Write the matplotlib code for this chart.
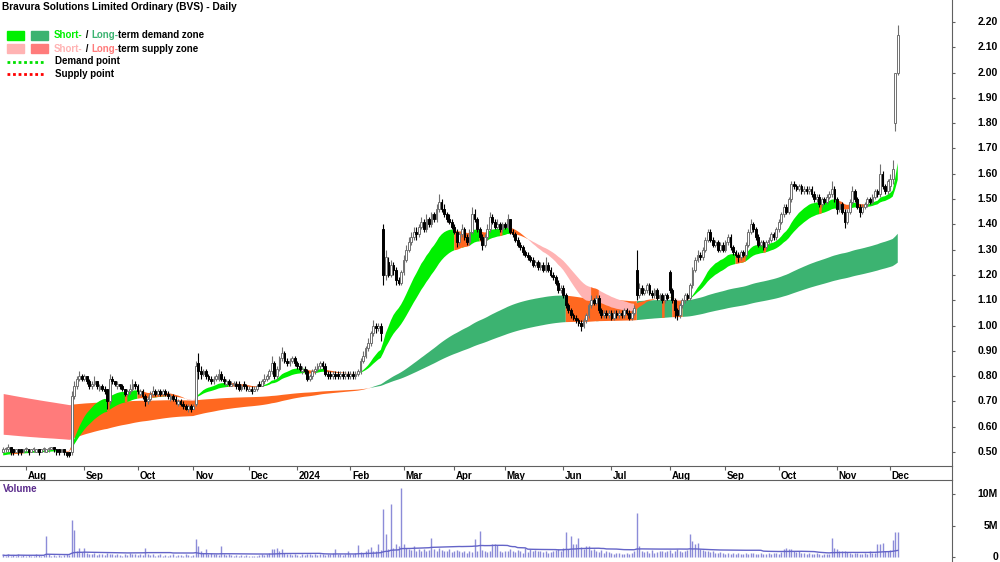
import numpy as np
import pandas as pd
import matplotlib
matplotlib.use("Agg")
import matplotlib.pyplot as plt
from matplotlib.transforms import blended_transform_factory
from matplotlib.patches import Rectangle
from matplotlib.lines import Line2D

plt.rcParams['font.family'] = ['Liberation Sans', 'DejaVu Sans']

# ---------------- data ----------------
start_date = "2023-07-19"
end_date = "2024-12-05"
holidays = ["2023-12-25", "2023-12-26", "2024-01-01", "2024-01-26",
            "2024-03-29", "2024-04-01", "2024-04-25", "2024-06-10"]

opens = [
 0.50,0.51,0.51,0.52,0.51,0.50,0.51,0.51,0.50,0.51, 0.51,0.50,0.51,0.50,0.51,0.50,0.51,0.50,0.51,0.51,
 0.52,0.51,0.51,0.50,0.51,0.50,0.50,0.50,0.72,0.76, 0.79,0.80,0.79,0.80,0.78,0.76,0.77,0.78,0.75,0.76,
 0.75,0.75,0.70,0.79,0.78,0.76,0.77,0.76,0.75,0.73, 0.74,0.75,0.77,0.76,0.73,0.74,0.72,0.70,0.71,0.73,
 0.74,0.73,0.74,0.73,0.74,0.73,0.71,0.72,0.71,0.69, 0.70,0.69,0.68,0.67,0.68,0.67,0.69,0.85,0.82,0.81,
 0.82,0.80,0.79,0.78,0.79,0.79,0.81,0.79,0.77,0.78, 0.76,0.77,0.77,0.77,0.75,0.77,0.76,0.74,0.75,0.74,
 0.75,0.77,0.76,0.78,0.79,0.80,0.82,0.85,0.80,0.83, 0.87,0.89,0.86,0.85,0.86,0.87,0.85,0.84,0.82,0.83,
 0.82,0.79,0.80,0.82,0.83,0.84,0.85,0.84,0.81,0.81, 0.80,0.81,0.81,0.80,0.81,0.80,0.81,0.80,0.81,0.80,
 0.81,0.82,0.86,0.88,0.91,0.93,0.97,1.00,0.99,1.00, 1.38,1.20,1.25,1.20,1.24,1.22,1.18,1.17,1.21,1.26,
 1.30,1.33,1.35,1.37,1.36,1.39,1.41,1.38,1.42,1.40, 1.44,1.42,1.46,1.49,1.46,1.44,1.42,1.41,1.39,1.37,
 1.33,1.36,1.38,1.35,1.33,1.37,1.44,1.42,1.38,1.35, 1.32,1.35,1.38,1.43,1.41,1.39,1.40,1.38,1.40,1.39,
 1.42,1.37,1.36,1.34,1.32,1.31,1.29,1.28,1.27,1.26, 1.24,1.25,1.23,1.24,1.22,1.24,1.22,1.20,1.19,1.17,
 1.14,1.15,1.12,1.08,1.06,1.04,1.03,1.02,1.01,1.00, 1.02,1.04,1.08,1.10,1.09,1.11,1.06,1.04,1.05,1.04,
 1.05,1.03,1.05,1.04,1.05,1.04,1.06,1.05,1.03,1.05, 1.22,1.12,1.15,1.13,1.14,1.16,1.13,1.12,1.14,1.11,
 1.12,1.10,1.12,1.21,1.14,1.10,1.06,1.04,1.08,1.10, 1.12,1.11,1.16,1.22,1.26,1.28,1.27,1.30,1.34,1.37,
 1.34,1.32,1.33,1.30,1.32,1.30,1.33,1.35,1.31,1.29, 1.28,1.27,1.29,1.28,1.32,1.37,1.40,1.38,1.35,1.32,
 1.33,1.31,1.33,1.34,1.36,1.35,1.38,1.41,1.44,1.47, 1.45,1.50,1.56,1.55,1.54,1.55,1.53,1.54,1.53,1.54,
 1.52,1.50,1.51,1.48,1.50,1.49,1.51,1.52,1.54,1.50, 1.46,1.48,1.45,1.41,1.45,1.49,1.53,1.50,1.47,1.45,
 1.47,1.48,1.50,1.49,1.51,1.53,1.52,1.60,1.55,1.53, 1.55,1.58,1.80,2.00]

highs = [
 0.52,0.52,0.53,0.52,0.51,0.51,0.51,0.51,0.51,0.52, 0.51,0.51,0.52,0.51,0.51,0.51,0.52,0.51,0.52,0.52,
 0.52,0.51,0.51,0.51,0.51,0.50,0.50,0.74,0.78,0.80, 0.82,0.81,0.81,0.80,0.79,0.78,0.80,0.78,0.77,0.77,
 0.76,0.75,0.81,0.80,0.78,0.78,0.77,0.77,0.75,0.75, 0.77,0.79,0.78,0.77,0.75,0.75,0.73,0.72,0.74,0.76,
 0.75,0.75,0.75,0.75,0.75,0.74,0.73,0.73,0.72,0.71, 0.71,0.70,0.69,0.69,0.69,0.69,0.86,0.89,0.84,0.83,
 0.83,0.81,0.80,0.80,0.81,0.83,0.82,0.80,0.79,0.79, 0.78,0.78,0.78,0.78,0.77,0.78,0.77,0.76,0.76,0.76,
 0.77,0.78,0.79,0.81,0.81,0.83,0.88,0.86,0.84,0.88, 0.915,0.90,0.87,0.87,0.88,0.88,0.86,0.85,0.84,0.84,
 0.83,0.81,0.83,0.84,0.85,0.86,0.86,0.85,0.82,0.82, 0.82,0.82,0.82,0.82,0.82,0.82,0.82,0.82,0.82,0.82,
 0.83,0.87,0.90,0.92,0.95,0.98,1.02,1.01,1.01,1.01, 1.40,1.30,1.27,1.26,1.25,1.23,1.19,1.22,1.28,1.32,
 1.35,1.37,1.39,1.39,1.40,1.43,1.42,1.44,1.43,1.45, 1.45,1.48,1.52,1.50,1.48,1.45,1.44,1.42,1.40,1.38,
 1.37,1.40,1.39,1.36,1.38,1.47,1.46,1.43,1.39,1.36, 1.36,1.40,1.45,1.44,1.42,1.42,1.41,1.41,1.41,1.44,
 1.42,1.38,1.37,1.35,1.33,1.32,1.30,1.29,1.28,1.27, 1.26,1.26,1.25,1.25,1.27,1.25,1.23,1.21,1.20,1.18,
 1.16,1.16,1.13,1.09,1.07,1.05,1.04,1.03,1.02,1.03, 1.05,1.09,1.12,1.11,1.12,1.12,1.07,1.06,1.06,1.06,
 1.06,1.06,1.06,1.06,1.06,1.07,1.07,1.06,1.06,1.08, 1.30,1.17,1.16,1.15,1.17,1.17,1.14,1.15,1.15,1.13,
 1.13,1.13,1.13,1.22,1.15,1.11,1.07,1.09,1.11,1.13, 1.13,1.17,1.23,1.27,1.30,1.29,1.31,1.35,1.38,1.38,
 1.35,1.34,1.34,1.33,1.33,1.34,1.36,1.36,1.32,1.30, 1.29,1.30,1.30,1.33,1.38,1.42,1.41,1.39,1.36,1.34,
 1.34,1.34,1.35,1.37,1.37,1.39,1.42,1.45,1.48,1.48, 1.51,1.57,1.57,1.56,1.56,1.56,1.55,1.55,1.55,1.55,
 1.53,1.52,1.52,1.51,1.51,1.52,1.53,1.57,1.55,1.51, 1.49,1.49,1.46,1.46,1.50,1.55,1.54,1.51,1.48,1.48,
 1.49,1.51,1.51,1.52,1.54,1.54,1.64,1.61,1.56,1.58, 1.60,1.655,2.00,2.19]

lows = [
 0.50,0.50,0.50,0.49,0.49,0.50,0.49,0.49,0.50,0.50, 0.49,0.50,0.50,0.50,0.49,0.50,0.50,0.50,0.50,0.51,
 0.50,0.49,0.49,0.50,0.49,0.48,0.48,0.49,0.71,0.75, 0.78,0.78,0.78,0.77,0.75,0.75,0.76,0.75,0.74,0.74,
 0.73,0.67,0.69,0.77,0.76,0.75,0.75,0.74,0.72,0.72, 0.73,0.74,0.75,0.73,0.72,0.71,0.68,0.69,0.70,0.72,
 0.72,0.72,0.72,0.72,0.72,0.71,0.70,0.70,0.69,0.68, 0.68,0.67,0.665,0.66,0.66,0.67,0.68,0.79,0.79,0.80,
 0.79,0.78,0.77,0.77,0.78,0.78,0.78,0.77,0.76,0.76, 0.76,0.76,0.75,0.74,0.74,0.75,0.74,0.74,0.73,0.74,
 0.74,0.76,0.76,0.77,0.78,0.79,0.81,0.79,0.79,0.82, 0.86,0.85,0.84,0.84,0.85,0.84,0.83,0.82,0.81,0.81,
 0.78,0.78,0.79,0.81,0.82,0.83,0.83,0.80,0.79,0.79, 0.79,0.79,0.79,0.79,0.79,0.79,0.79,0.79,0.79,0.79,
 0.80,0.81,0.85,0.87,0.90,0.92,0.96,0.97,0.98,0.94, 1.16,1.18,1.19,1.19,1.20,1.16,1.16,1.16,1.20,1.25,
 1.29,1.32,1.34,1.34,1.35,1.38,1.37,1.37,1.39,1.39, 1.41,1.41,1.45,1.45,1.43,1.41,1.40,1.38,1.36,1.31,
 1.32,1.35,1.34,1.32,1.32,1.36,1.41,1.37,1.34,1.30, 1.31,1.34,1.37,1.40,1.38,1.38,1.37,1.37,1.38,1.38,
 1.36,1.35,1.33,1.31,1.30,1.28,1.27,1.26,1.25,1.23, 1.23,1.22,1.22,1.21,1.21,1.21,1.19,1.18,1.16,1.13,
 1.13,1.11,1.07,1.05,1.03,1.02,1.01,1.00,0.98,0.99, 1.01,1.03,1.07,1.08,1.08,1.05,1.03,1.03,1.03,1.03,
 1.02,1.02,1.03,1.03,1.03,1.03,1.04,1.02,1.02,1.04, 1.10,1.11,1.12,1.12,1.13,1.12,1.11,1.11,1.10,1.10,
 1.09,1.09,1.10,1.13,1.09,1.03,1.02,1.03,1.07,1.09, 1.10,1.10,1.15,1.21,1.25,1.26,1.26,1.29,1.33,1.33,
 1.31,1.31,1.29,1.29,1.29,1.29,1.32,1.30,1.28,1.27, 1.25,1.26,1.27,1.27,1.31,1.36,1.37,1.34,1.31,1.31,
 1.30,1.30,1.32,1.33,1.34,1.34,1.37,1.40,1.43,1.44, 1.44,1.49,1.54,1.53,1.53,1.52,1.52,1.52,1.52,1.51,
 1.49,1.49,1.47,1.47,1.48,1.48,1.50,1.51,1.49,1.44, 1.45,1.44,1.385,1.40,1.44,1.48,1.49,1.46,1.43,1.44,
 1.46,1.47,1.48,1.48,1.50,1.51,1.51,1.54,1.52,1.52, 1.53,1.56,1.77,1.99]

closes = [
 0.51,0.51,0.52,0.50,0.50,0.51,0.50,0.50,0.51,0.51, 0.50,0.51,0.51,0.51,0.50,0.51,0.51,0.51,0.51,0.52,
 0.51,0.50,0.50,0.51,0.50,0.49,0.49,0.72,0.76,0.79, 0.80,0.79,0.80,0.78,0.76,0.77,0.78,0.76,0.76,0.75,
 0.74,0.70,0.79,0.78,0.77,0.77,0.76,0.75,0.73,0.74, 0.75,0.77,0.76,0.74,0.74,0.72,0.70,0.71,0.73,0.74,
 0.73,0.74,0.73,0.74,0.73,0.72,0.72,0.71,0.70,0.70, 0.69,0.68,0.67,0.68,0.67,0.68,0.84,0.82,0.81,0.82,
 0.80,0.79,0.78,0.79,0.80,0.81,0.79,0.78,0.78,0.77, 0.77,0.77,0.76,0.75,0.76,0.76,0.75,0.75,0.74,0.75,
 0.76,0.76,0.78,0.79,0.80,0.82,0.85,0.80,0.83,0.87, 0.89,0.86,0.85,0.86,0.87,0.85,0.84,0.83,0.83,0.82,
 0.79,0.80,0.82,0.83,0.84,0.85,0.84,0.81,0.80,0.80, 0.81,0.80,0.80,0.81,0.80,0.81,0.80,0.81,0.80,0.81,
 0.82,0.86,0.88,0.91,0.93,0.97,1.00,0.99,1.00,0.97, 1.20,1.27,1.20,1.24,1.22,1.18,1.17,1.21,1.26,1.30,
 1.33,1.35,1.37,1.36,1.39,1.41,1.38,1.42,1.40,1.44, 1.42,1.46,1.49,1.46,1.44,1.42,1.41,1.39,1.37,1.33,
 1.36,1.38,1.35,1.33,1.37,1.44,1.42,1.38,1.35,1.32, 1.35,1.38,1.43,1.41,1.39,1.40,1.38,1.40,1.39,1.42,
 1.37,1.36,1.34,1.32,1.31,1.29,1.28,1.27,1.26,1.24, 1.25,1.23,1.24,1.22,1.24,1.22,1.20,1.19,1.17,1.14,
 1.15,1.12,1.08,1.06,1.04,1.03,1.02,1.01,1.00,1.02, 1.04,1.08,1.10,1.09,1.11,1.06,1.04,1.05,1.04,1.05,
 1.03,1.05,1.04,1.05,1.04,1.06,1.05,1.03,1.05,1.07, 1.12,1.15,1.13,1.14,1.16,1.13,1.12,1.14,1.11,1.12,
 1.10,1.12,1.11,1.14,1.10,1.06,1.04,1.08,1.10,1.12, 1.11,1.16,1.22,1.26,1.28,1.27,1.30,1.34,1.37,1.34,
 1.32,1.33,1.30,1.32,1.30,1.33,1.35,1.31,1.29,1.28, 1.27,1.29,1.28,1.32,1.37,1.40,1.38,1.35,1.32,1.33,
 1.31,1.33,1.34,1.36,1.35,1.38,1.41,1.44,1.47,1.45, 1.50,1.56,1.55,1.54,1.55,1.53,1.54,1.53,1.54,1.52,
 1.50,1.51,1.48,1.50,1.49,1.51,1.52,1.54,1.50,1.46, 1.48,1.45,1.41,1.45,1.49,1.53,1.50,1.47,1.45,1.47,
 1.48,1.50,1.49,1.51,1.53,1.52,1.60,1.55,1.53,1.57, 1.58,1.62,2.00,2.15]

volume_m = [
 0.3,0.2,0.4,0.2,0.3,0.2,0.5,0.2,0.3,0.2, 0.3,0.2,0.2,0.4,0.3,0.2,0.3,3.3,0.4,0.2,
 0.3,0.2,0.3,0.2,0.3,0.4,0.3,5.9,4.3,0.9, 1.5,0.8,1.5,0.6,0.5,0.4,0.6,0.3,0.5,0.4,
 0.3,0.6,0.5,0.4,0.3,0.5,0.3,0.2,0.4,0.3, 0.6,0.4,0.5,0.3,0.4,0.3,1.5,0.5,0.3,0.4,
 0.2,0.3,0.4,0.2,0.3,0.2,0.3,0.4,0.2,0.3, 0.3,0.2,0.4,0.3,0.2,0.3,2.8,1.7,0.9,0.6,
 1.3,0.5,0.6,0.4,0.5,0.3,1.7,0.4,0.3,0.4, 0.3,0.2,0.3,0.2,0.3,0.2,0.3,0.2,0.1,0.2,
 0.2,0.3,0.4,0.3,0.5,0.6,1.2,1.3,1.4,1.0, 1.3,0.6,0.4,0.5,0.3,0.4,0.3,0.2,0.4,0.3,
 0.5,0.4,0.3,0.4,0.3,0.5,0.4,0.3,0.5,0.4, 0.6,1.3,0.5,0.4,0.3,0.5,1.0,0.4,0.5,0.6,
 1.9,0.8,0.7,0.9,1.3,1.6,0.9,1.0,2.0,1.1, 7.6,3.7,1.2,8.4,1.5,2.0,1.8,11.0,2.0,1.4,
 1.2,1.1,1.8,1.0,1.3,0.9,1.2,1.0,1.1,3.0, 1.2,1.0,1.4,1.1,0.9,1.0,1.2,0.8,0.9,1.1,
 1.0,0.8,0.9,0.7,1.0,0.8,2.9,1.0,4.2,1.1, 0.9,0.8,1.0,2.1,2.0,1.9,1.0,0.8,1.0,0.9,
 1.2,1.0,0.8,1.1,0.9,0.7,1.5,0.8,1.2,1.0, 1.1,0.9,1.0,0.8,1.0,0.7,0.8,0.9,1.1,1.3,
 1.0,1.4,4.0,1.2,3.3,2.0,2.0,3.0,1.6,1.2, 1.7,1.7,1.1,1.3,1.0,0.8,1.1,0.7,0.9,0.8,
 0.6,0.5,0.7,0.6,0.4,0.5,0.6,0.5,0.7,1.0, 7.0,1.7,1.0,0.8,0.9,0.7,1.1,0.6,0.8,0.9,
 1.0,0.8,0.9,1.1,0.7,0.9,1.2,1.0,0.8,1.0, 1.1,3.6,2.6,2.0,2.2,1.3,1.1,0.9,1.0,0.8,
 0.9,0.7,0.6,0.8,0.7,0.5,0.6,0.5,0.7,0.4, 0.6,0.5,0.4,0.6,0.5,0.7,0.6,0.4,0.5,0.6,
 0.4,0.5,0.6,0.4,0.7,0.6,0.5,0.8,1.2,1.4, 1.3,1.2,1.0,0.8,0.9,0.7,0.6,0.5,0.7,0.4,
 0.5,0.6,0.4,0.3,0.4,0.5,0.4,3.0,1.5,1.2, 1.0,0.9,1.0,0.8,0.6,0.5,0.7,0.6,0.4,0.5,
 0.6,0.5,1.0,0.7,0.6,2.0,2.1,2.2,0.9,1.0, 1.1,2.7,4.0,3.9]

# zone band starting levels read at the left edge of the chart
short_seed = (0.495, 0.485)   # short-term fast / slow
long_seed = (0.571, 0.733)    # long-term fast / slow
short_periods = (18, 32)
long_periods = (140, 240)
price_ticks = [0.50,0.60,0.70,0.80,0.90,1.00,1.10,1.20,1.30,1.40,1.50,1.60,1.70,1.80,1.90,2.00,2.10,2.20]
vol_ticks = [0, 5, 10]
vol_tick_labels = ["0", "5M", "10M"]
title = "Bravura Solutions Limited Ordinary (BVS) - Daily"

# ---------------- prep ----------------
o = np.array(opens); h = np.array(highs); l = np.array(lows); c = np.array(closes)
v = np.array(volume_m)
N = len(c)
x = np.arange(N)
dates = pd.bdate_range(start_date, end_date)
dates = dates[~dates.isin(pd.to_datetime(holidays))][:N]

def ema(vals, n, seed):
    a = 2.0 / (n + 1)
    out = np.empty(len(vals)); prev = seed
    for i, val in enumerate(vals):
        prev = prev + a * (val - prev)
        out[i] = prev
    return out

sf = ema(c, short_periods[0], short_seed[0]); ss = ema(c, short_periods[1], short_seed[1])
lf = ema(c, long_periods[0], long_seed[0]); ls = ema(c, long_periods[1], long_seed[1])

C_SDEM = '#00f000'; C_LDEM = '#3cb371'; C_SSUP = '#ffb3b3'; C_LSUP = '#ff7b7b'; C_MIX = '#ff6820'
SPINE = '#606060'

def draw_zone(ax, fast, slow, cdem, csup, z):
    lo = np.minimum(fast, slow); hi = np.maximum(fast, slow)
    dem = (fast >= slow) & (c >= fast)
    sup = (fast < slow) & (c <= fast)
    mix = ~(dem | sup)
    for mask, col in ((dem, cdem), (sup, csup), (mix, C_MIX)):
        m = mask.copy(); m[1:] |= mask[:-1]
        ax.fill_between(x, lo, hi, where=m, color=col, lw=0, zorder=z)

W, H = 1000, 562
fig = plt.figure(figsize=(10, 5.62), dpi=100)
ax = fig.add_axes([0, (H - 466) / H, 952 / W, 466 / H])
axv = fig.add_axes([0, 0, 952 / W, (H - 480) / H])

draw_zone(ax, lf, ls, C_LDEM, C_LSUP, 1)
draw_zone(ax, sf, ss, C_SDEM, C_SSUP, 2)

up = c >= o
wick_col = np.where(up, '#707070', '#000000')
ax.vlines(x, l, h, colors=wick_col, lw=0.8, zorder=3)
body_lo = np.minimum(o, c); body_h = np.maximum(np.abs(c - o), 0.004)
ax.bar(x[up], body_h[up], bottom=body_lo[up], width=0.7, facecolor='white',
       edgecolor='#707070', lw=0.7, zorder=4)
ax.bar(x[~up], body_h[~up], bottom=body_lo[~up], width=0.7, facecolor='black',
       edgecolor='black', lw=0.7, zorder=4)

ax.set_xlim(-1.26, 374.4)
ax.set_ylim(0.4446, 2.287)
for sp in ('top', 'left'):
    ax.spines[sp].set_visible(False)
for sp in ('right', 'bottom'):
    ax.spines[sp].set_color(SPINE); ax.spines[sp].set_linewidth(0.8)

# month ticks
month_idx = []; month_lab = []
prev_m = None
for i, d in enumerate(dates):
    if d.month != prev_m:
        if i > 0:
            month_idx.append(i)
            month_lab.append(str(d.year) if d.month == 1 else d.strftime('%b'))
        prev_m = d.month
ax.set_xticks(month_idx)
ax.tick_params(axis='x', direction='out', length=3, color=SPINE, labelbottom=False)
for xi, lab in zip(month_idx, month_lab):
    ax.annotate(lab, xy=(xi, 0), xycoords=('data', 'axes fraction'), xytext=(1.2, -7.5),
                textcoords='offset points', ha='left', va='center', fontsize=7,
                fontweight='bold', annotation_clip=False)

ax.yaxis.tick_right()
ax.set_yticks(price_ticks)
ax.tick_params(axis='y', direction='out', length=2, color=SPINE, labelright=False, labelleft=False)
trp = blended_transform_factory(fig.transFigure, ax.transData)
for t in price_ticks:
    ax.text(0.998, t, f"{t:.2f}", transform=trp, ha='right', va='center',
            fontsize=7.5, fontweight='bold', clip_on=False)

# volume panel
axv.vlines(x, 0, v, colors='#8c8cd8', lw=1.0, zorder=2)
vma = pd.Series(v).rolling(50, min_periods=1).mean().values
axv.plot(x, vma, color='#6464c8', lw=1.0, zorder=3)
axv.set_xlim(-1.26, 374.4)
axv.set_ylim(-0.79, 12.22)
for sp in ('bottom', 'left'):
    axv.spines[sp].set_visible(False)
for sp in ('top', 'right'):
    axv.spines[sp].set_color(SPINE); axv.spines[sp].set_linewidth(0.8)
axv.set_xticks([])
axv.yaxis.tick_right()
axv.set_yticks(vol_ticks)
axv.tick_params(axis='y', direction='out', length=2, color=SPINE, labelright=False, labelleft=False)
trv = blended_transform_factory(fig.transFigure, axv.transData)
for t, lab in zip(vol_ticks, vol_tick_labels):
    axv.text(0.998, t, lab, transform=trv, ha='right', va='center', fontsize=7.5,
             fontweight='bold', clip_on=False)
fig.text(3 / W, 1 - 489 / H, "Volume", color='#5b2c8c', fontsize=7, fontweight='bold',
         va='center', ha='left')
# vertical separator joining the two panels
fig.add_artist(Line2D([952 / W, 952 / W], [1 - 466 / H, 1 - 480 / H], color=SPINE, lw=0.8,
                      transform=fig.transFigure))

# title and legend
fig.text(2 / W, 1 - 7 / H, title, fontsize=7.3, fontweight='bold', va='center', ha='left')

def px(xp, yp):
    return (xp / W, 1 - yp / H)

def chain(parts, xp, yp):
    prev = fig.text(*px(xp, yp), parts[0][0], color=parts[0][1], fontsize=7,
                    fontweight='bold', va='center', ha='left')
    for txt, col in parts[1:]:
        prev = ax.annotate(txt, xy=(1, 0), xycoords=prev, xytext=(0, 0),
                           textcoords='offset points', ha='left', va='bottom', color=col,
                           fontsize=7, fontweight='bold', annotation_clip=False)

for (x0, col) in ((7, C_SDEM), (31, C_LDEM)):
    fig.add_artist(Rectangle(px(x0, 40), 17 / W, 9 / H, color=col, transform=fig.transFigure))
for (x0, col) in ((7, C_SSUP), (31, C_LSUP)):
    fig.add_artist(Rectangle(px(x0, 53), 17 / W, 9 / H, color=col, transform=fig.transFigure))
chain([("Short-", C_SDEM), (" / ", 'black'), ("Long-", C_LDEM), ("term demand zone", 'black')], 54, 35.5)
chain([("Short-", C_SSUP), (" / ", 'black'), ("Long-", C_LSUP), ("term supply zone", 'black')], 54, 48.5)
fig.add_artist(Line2D([7 / W, 45 / W], [1 - 61.5 / H] * 2, color='#00e000', lw=2, ls=(0, (1, 1)),
                      transform=fig.transFigure))
fig.add_artist(Line2D([7 / W, 45 / W], [1 - 74 / H] * 2, color='#ff0000', lw=2, ls=(0, (1, 1)),
                      transform=fig.transFigure))
fig.text(*px(55, 61.5), "Demand point", fontsize=7, fontweight='bold', va='center', ha='left')
fig.text(*px(55, 74), "Supply point", fontsize=7, fontweight='bold', va='center', ha='left')

fig.savefig("out.png", dpi=100)
